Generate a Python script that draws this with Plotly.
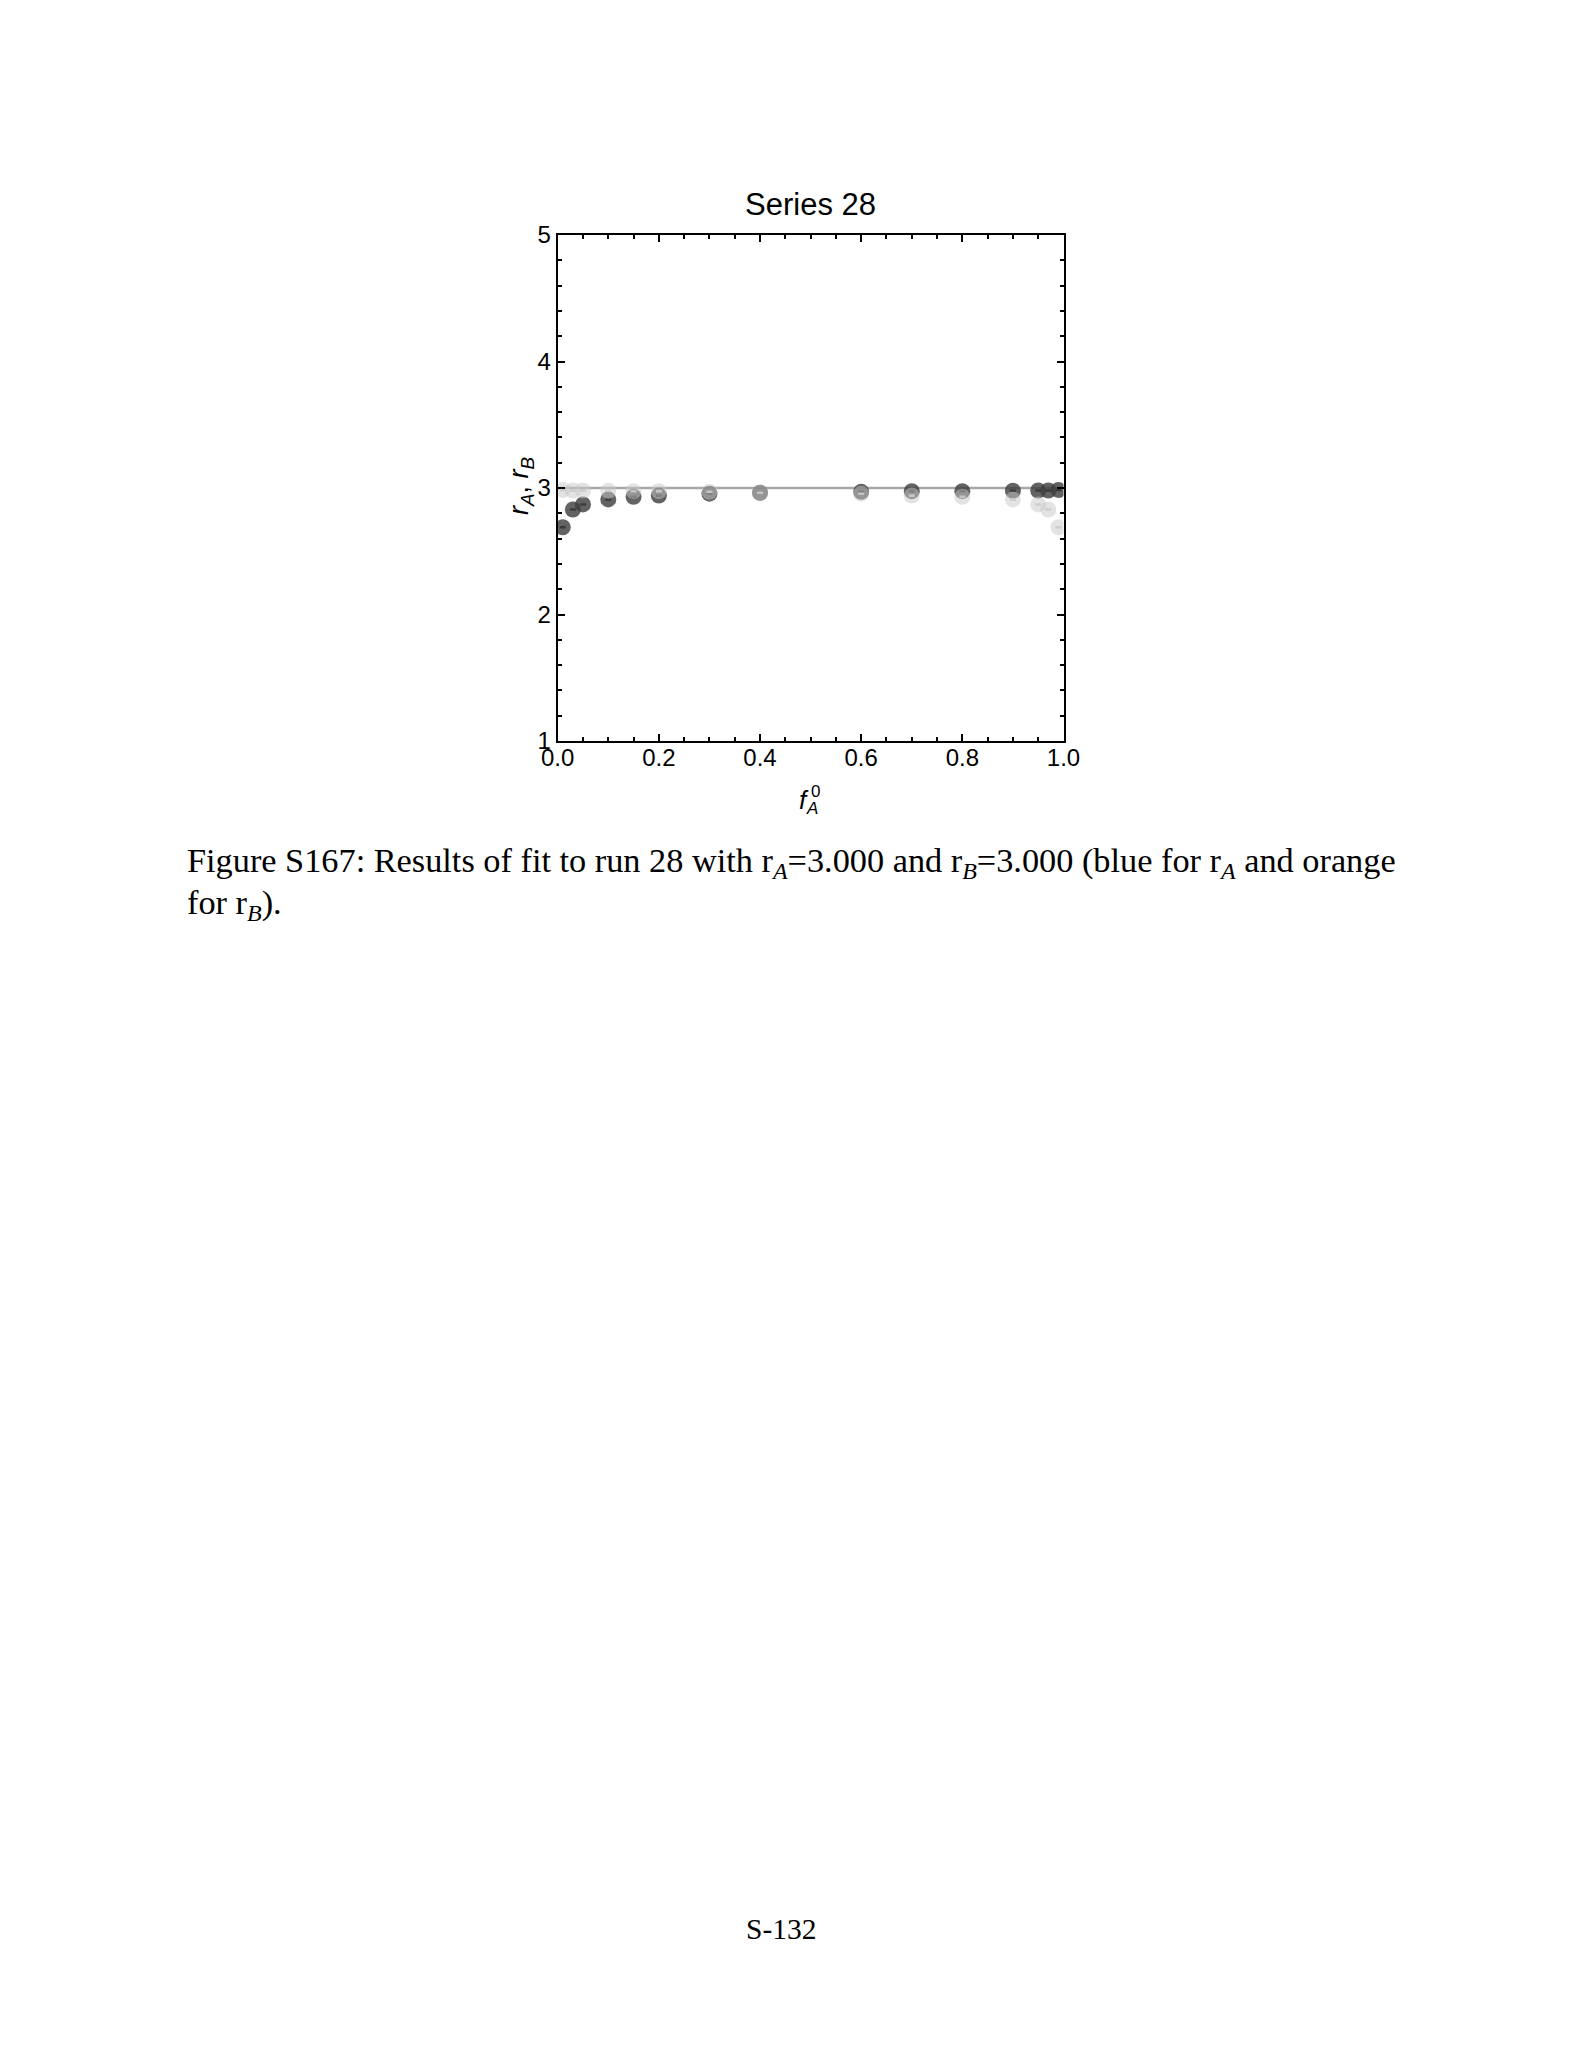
import plotly.graph_objects as go

W, H = 1582, 2048

# ---- data ----
f_A0 = [0.01, 0.03, 0.05, 0.10, 0.15, 0.20, 0.30, 0.40, 0.60, 0.70, 0.80, 0.90, 0.95, 0.97, 0.99]
r_A = [2.69, 2.83, 2.87, 2.91, 2.93, 2.94, 2.955, 2.962, 2.97, 2.975, 2.975, 2.978, 2.98, 2.98, 2.985]
r_B = [2.985, 2.98, 2.98, 2.978, 2.975, 2.975, 2.97, 2.962, 2.955, 2.94, 2.93, 2.91, 2.87, 2.83, 2.69]
err_A = [0.004] * len(f_A0)
err_B = [0.004] * len(f_A0)
true_x = [0.0, 1.0]
true_r = [3.0, 3.0]
x_ticks = [0.0, 0.2, 0.4, 0.6, 0.8, 1.0]
x_ticklabels = ["0.0", "0.2", "0.4", "0.6", "0.8", "1.0"]
y_ticks = [1, 2, 3, 4, 5]
y_ticklabels = ["1", "2", "3", "4", "5"]

# ---- layout geometry (page pixels) ----
L, R, T, B = 557.7, 1063.5, 235.0, 741.0
px = lambda x: x / W
py = lambda y: 1 - y / H

sans = "Liberation Sans, Arial, sans-serif"
serif = "Liberation Serif, Times New Roman, serif"

fig = go.Figure()
fig.add_trace(go.Scatter(
    x=true_x, y=true_r, mode="lines",
    line=dict(color="rgb(168,168,168)", width=2.5),
    showlegend=False, hoverinfo="skip"))
fig.add_trace(go.Scatter(
    x=f_A0, y=r_A, mode="markers",
    marker=dict(size=16, color="rgba(60,60,60,0.8)", line=dict(width=0)),
    error_y=dict(type="data", array=err_A, width=3, thickness=1.6, color="rgba(25,25,25,0.85)"),
    showlegend=False))
fig.add_trace(go.Scatter(
    x=f_A0, y=r_B, mode="markers",
    marker=dict(size=16, color="rgba(200,200,200,0.5)", line=dict(width=0)),
    error_y=dict(type="data", array=err_B, width=3, thickness=1.6, color="rgba(205,205,205,0.9)"),
    showlegend=False))

axis_common = dict(
    showline=True, linecolor="black", linewidth=2, mirror="allticks",
    ticks="inside", ticklen=7, tickwidth=1.5, tickcolor="black",
    showgrid=False, zeroline=False, automargin=False,
    tickfont=dict(family=sans, size=24, color="black"),
)
fig.update_layout(
    width=W, height=H, autosize=False,
    margin=dict(l=0, r=0, t=0, b=0, pad=0, autoexpand=False),
    showlegend=False,
    paper_bgcolor="white", plot_bgcolor="white",
    xaxis=dict(domain=[px(L), px(R)], range=[0, 1],
               tickvals=x_ticks, ticktext=x_ticklabels, ticklabelstandoff=-6,
               minor=dict(dtick=0.05, ticks="inside", ticklen=4, tickwidth=1.5, tickcolor="black"),
               **axis_common),
    yaxis=dict(domain=[py(B), py(T)], range=[1, 5],
               tickvals=y_ticks, ticktext=y_ticklabels,
               minor=dict(dtick=0.2, ticks="inside", ticklen=4, tickwidth=1.5, tickcolor="black"),
               **axis_common),
    title=dict(text="Series 28", x=px((L + R) / 2), xref="paper", xanchor="center",
               y=py(204), yref="paper", yanchor="middle", automargin=False,
               font=dict(family=sans, size=31, color="black")),
)

ann = []
# y-axis title
ann.append(dict(text="<i>r</i><sub><i>A</i></sub>, <i>r</i><sub><i>B</i></sub>",
                x=px(521), y=py(486), xref="paper", yref="paper",
                textangle=-90, showarrow=False, xanchor="center", yanchor="middle",
                font=dict(family=sans, size=27, color="black")))
# x-axis title f_A^0
ann.append(dict(text="<i>f</i>", x=px(804), y=py(800), xref="paper", yref="paper",
                showarrow=False, xanchor="center", yanchor="middle",
                font=dict(family=sans, size=26, color="black")))
ann.append(dict(text="0", x=px(815), y=py(791), xref="paper", yref="paper",
                showarrow=False, xanchor="center", yanchor="middle",
                font=dict(family=sans, size=17, color="black")))
ann.append(dict(text="<i>A</i>", x=px(812), y=py(808), xref="paper", yref="paper",
                showarrow=False, xanchor="center", yanchor="middle",
                font=dict(family=sans, size=17, color="black")))
# caption
ann.append(dict(text="Figure S167: Results of fit to run 28 with r<sub><i>A</i></sub>=3.000 and r<sub><i>B</i></sub>=3.000 (blue for r<sub><i>A</i></sub> and orange",
                x=px(185), y=py(862), xref="paper", yref="paper", align="left",
                showarrow=False, xanchor="left", yanchor="middle",
                font=dict(family=serif, size=34.3, color="black")))
ann.append(dict(text="for r<sub><i>B</i></sub>).",
                x=px(185), y=py(904), xref="paper", yref="paper", align="left",
                showarrow=False, xanchor="left", yanchor="middle",
                font=dict(family=serif, size=34.3, color="black")))
# page number
ann.append(dict(text="S-132", x=px(781), y=py(1929), xref="paper", yref="paper",
                showarrow=False, xanchor="center", yanchor="middle",
                font=dict(family=serif, size=29.5, color="black")))
fig.update_layout(annotations=ann)

fig.write_html("out.html")
